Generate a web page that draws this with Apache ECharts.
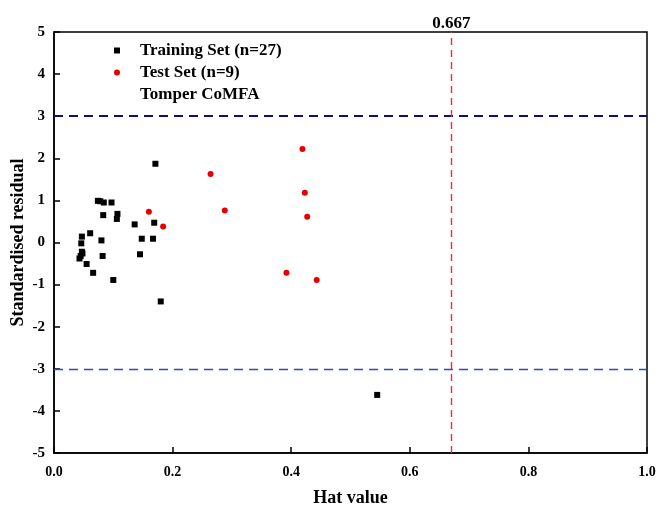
<!DOCTYPE html>
<html><head><meta charset="utf-8">
<script src="https://cdn.jsdelivr.net/npm/echarts@6/dist/echarts.min.js"></script>
<style>html,body{margin:0;padding:0;background:#fff}#c{width:659px;height:507px}</style>
</head><body><div id="c"></div>
<script>
var trainingX = [0.171,0.074,0.078,0.084,0.097,0.083,0.107,0.106,0.061,0.047,0.136,0.169,0.148,0.167,0.080,0.046,0.048,0.045,0.043,0.082,0.145,0.055,0.066,0.100,0.180,0.545,0.047];
var trainingY = [1.87,0.99,0.98,0.95,0.95,0.65,0.68,0.56,0.22,0.14,0.43,0.47,0.09,0.09,0.05,-0.02,-0.26,-0.32,-0.38,-0.32,-0.28,-0.51,-0.72,-0.89,-1.40,-3.62,-0.22];
var testX = [0.160,0.184,0.264,0.288,0.419,0.423,0.427,0.392,0.443];
var testY = [0.73,0.38,1.63,0.76,2.22,1.18,0.61,-0.72,-0.89];
var xTicks = [0.0,0.2,0.4,0.6,0.8,1.0];
var yTicks = [-5,-4,-3,-2,-1,0,1,2,3,4,5];
var warningLeverage = 0.667;
var residualLimits = [3,-3];
var seriesNames = ['Training Set (n=27)','Test Set (n=9)','Tomper CoMFA'];

function pairs(xs, ys){ return xs.map(function(x,i){return [x, ys[i]];}); }
var F = 'Liberation Serif';
var chart = echarts.init(document.getElementById('c'));
chart.setOption({
  animation:false,
  backgroundColor:'#fff',
  grid:{left:54,top:32,right:12,bottom:54,containLabel:false,outerBoundsMode:'none',
    show:true,borderColor:'#000',borderWidth:1.5,backgroundColor:'transparent'},
  legend:{
    orient:'vertical', left:109, top:37, itemWidth:6, itemHeight:6, itemGap:5,
    textStyle:{fontFamily:F,fontWeight:'bold',fontSize:17,color:'#000',lineHeight:17,padding:[0,0,0,15]},
    data:[
      {name:seriesNames[0], icon:'rect', itemStyle:{color:'#000',opacity:1}},
      {name:seriesNames[1], icon:'circle', itemStyle:{color:'#e80000',opacity:1}},
      {name:seriesNames[2], icon:'rect', itemStyle:{color:'rgba(0,0,0,0)',opacity:0}}
    ],
    selectedMode:false
  },
  xAxis:{type:'value',min:0,max:1,interval:0.2,
    axisLine:{show:true,onZero:false,lineStyle:{color:'#000',width:1.5}},
    axisTick:{show:true,inside:true,length:6,lineStyle:{color:'#000',width:1.5}},
    splitLine:{show:false},
    axisLabel:{fontFamily:F,fontWeight:'bold',fontSize:14,color:'#000',margin:12,
      formatter:function(v){return v.toFixed(1);}},
    name:'Hat value',nameLocation:'middle',nameGap:36,nameMoveOverlap:false,
    nameTextStyle:{fontFamily:F,fontWeight:'bold',fontSize:18,color:'#000'}
  },
  yAxis:{type:'value',min:-5,max:5,interval:1,
    axisLine:{show:true,onZero:false,lineStyle:{color:'#000',width:1.5}},
    axisTick:{show:true,inside:true,length:6,lineStyle:{color:'#000',width:1.5}},
    splitLine:{show:false},
    axisLabel:{fontFamily:F,fontWeight:'bold',fontSize:15,color:'#000',margin:9},
    name:'Standardised residual',nameLocation:'middle',nameGap:27,nameMoveOverlap:false,
    nameTextStyle:{fontFamily:F,fontWeight:'bold',fontSize:18,color:'#000'}
  },
  series:[
    {name:seriesNames[0],type:'scatter',symbol:'rect',symbolSize:6,itemStyle:{color:'#000',opacity:1},
     data:pairs(trainingX,trainingY), z:5,
     markLine:{silent:true,symbol:'none',animation:false,label:{show:false},
       data:[
         {yAxis:residualLimits[0],lineStyle:{color:'#0d0d80',width:2,opacity:1,type:[9,6]}},
         {yAxis:residualLimits[1],lineStyle:{color:'#3a46b4',width:1.3,opacity:1,type:[9,6]}}
       ]}
    },
    {name:seriesNames[1],type:'scatter',symbol:'circle',symbolSize:6,itemStyle:{color:'#e80000',opacity:1},
     data:pairs(testX,testY), z:5,
     markLine:{silent:true,symbol:'none',animation:false,
       data:[{xAxis:warningLeverage,lineStyle:{color:'#dd3344',width:1.4,opacity:1,type:[7,5]},
         label:{show:true,position:'end',formatter:String(warningLeverage),distance:0,
           fontFamily:F,fontWeight:'bold',fontSize:17,color:'#000'}}]}
    },
    {name:seriesNames[2],type:'scatter',data:[]}
  ]
});
</script></body></html>
